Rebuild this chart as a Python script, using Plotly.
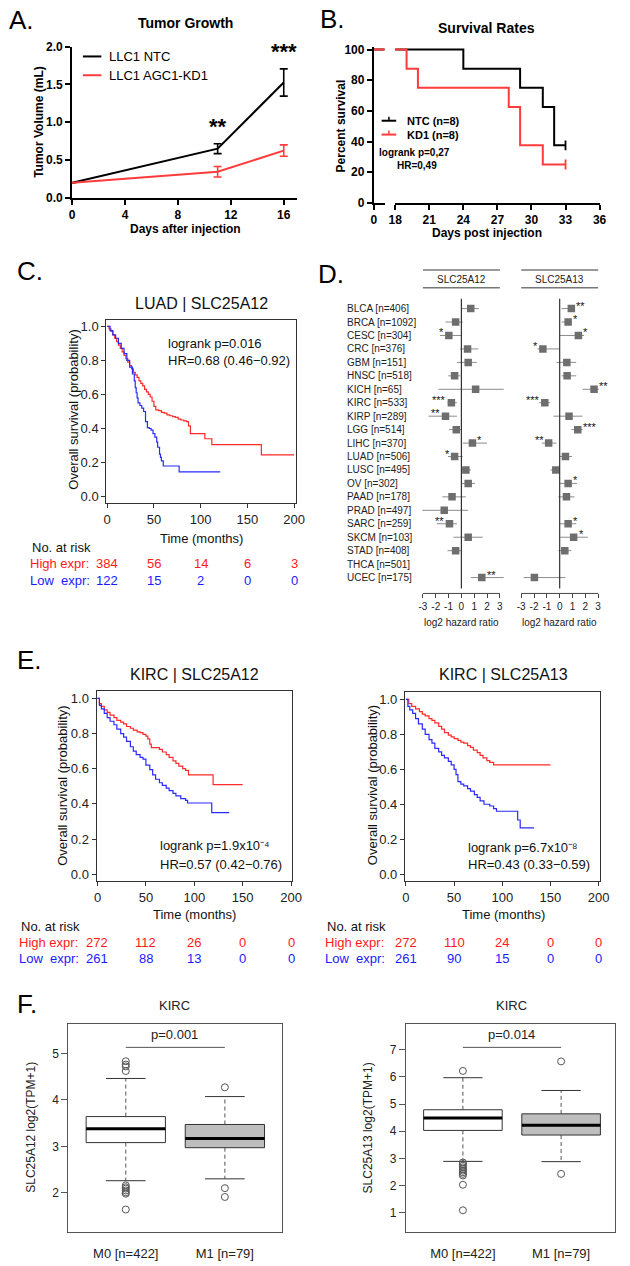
import plotly.graph_objects as go

W, H = 630, 1266
FONT = "Liberation Sans, Arial, Helvetica, sans-serif"
GP_RED = "#ff3b3b"
KM_RED = "#ff2a2a"
KM_BLUE = "#2a2aff"

# ====================== DATA ======================
# Panel A - tumour growth
growth_days = [0, 11, 16]
ntc_volume = [0.20, 0.65, 1.525]
ntc_sem = [None, 0.065, 0.18]
kd1_volume = [0.20, 0.345, 0.625]
kd1_sem = [None, 0.07, 0.075]
growth_stars = ["", "**", "***"]
growth_day_ticks = [0, 4, 8, 12, 16]
volume_ticks = [0.0, 0.5, 1.0, 1.5, 2.0]

# Panel B - survival
ntc_surv_days = [0, 24, 29, 31, 32, 33]
ntc_surv_pct = [100, 87.5, 75, 62.5, 37.5, 37.5]
kd1_surv_days = [0, 19, 20, 28, 29, 31, 33]
kd1_surv_pct = [100, 87.5, 75, 62.5, 37.5, 25, 25]
surv_day_ticks = [18, 21, 24, 27, 30, 33, 36]
surv_pct_ticks = [0, 20, 40, 60, 80, 100]

# Panel C - LUAD | SLC25A12 KM
luad_high_t = [0, 2, 4, 6, 8, 10, 12, 14, 16, 18, 20, 22, 24, 26, 28, 30, 32, 34, 36, 38, 40, 42, 44,
               46, 48, 50, 52, 55, 58, 61, 64, 67, 70, 73, 76, 79, 82, 85, 87, 89, 104.5, 112, 165, 200]
luad_high_s = [1.0, .985, .97, .95, .93, .91, .89, .87, .85, .83, .81, .79, .77, .75, .73, .715, .70, .68,
               .665, .65, .63, .615, .60, .585, .56, .53, .51, .505, .495, .49, .48, .475, .47, .465, .455,
               .45, .445, .44, .415, .37, .34, .305, .245, .245]
luad_low_t = [0, 3, 6, 9, 12, 15, 18, 21, 24, 27, 29, 30, 31, 32, 33, 35, 37, 39, 41, 43, 45, 47, 49, 51,
              53, 54, 56, 57, 58, 60, 77, 121]
luad_low_s = [1.0, .975, .95, .93, .90, .87, .84, .80, .76, .72, .68, .64, .61, .58, .55, .535, .52, .50,
              .44, .405, .40, .39, .37, .35, .32, .29, .25, .23, .21, .18, .145, .145]
luad_risk_high = [384, 56, 14, 6, 3]
luad_risk_low = [122, 15, 2, 0, 0]

# Panel D - forest plot (log2 hazard ratio)
cancers = ["BLCA [n=406]", "BRCA [n=1092]", "CESC [n=304]", "CRC [n=376]", "GBM [n=151]",
           "HNSC [n=518]", "KICH [n=65]", "KIRC [n=533]", "KIRP [n=289]", "LGG [n=514]",
           "LIHC [n=370]", "LUAD [n=506]", "LUSC [n=495]", "OV [n=302]", "PAAD [n=178]",
           "PRAD [n=497]", "SARC [n=259]", "SKCM [n=103]", "STAD [n=408]", "THCA [n=501]",
           "UCEC [n=175]"]
a12_hr = [0.73, -0.45, -0.98, 0.48, 0.53, -0.53, 1.11, -0.78, -1.24, -0.40, 0.86, -0.53, 0.35, 0.53,
          -0.73, -1.34, -0.93, 0.53, -0.45, None, 1.59]
a12_lo = [0.0, -1.24, -1.67, -0.10, -0.35, -1.03, -1.79, -1.10, -2.57, -0.97, 0.10, -1.05, 0.0, 0.0,
          -1.48, -3.05, -1.92, -0.62, -1.08, None, 0.73]
a12_hi = [1.36, 0.10, 0.0, 1.33, 1.20, -0.08, 3.30, -0.35, -0.35, 0.0, 2.00, 0.10, 0.74, 1.06,
          0.35, 0.53, -0.35, 1.67, 0.05, None, 3.30]
a12_sig = ["", "", "*", "", "", "", "", "***", "**", "", "*", "*", "", "", "", "", "**", "", "", "", "**"]
a13_hr = [0.91, 0.66, 1.46, -1.31, 0.56, 0.58, 2.68, -1.16, 0.73, 1.41, -0.86, 0.45, -0.30, 0.66,
          0.53, None, 0.66, 1.09, 0.40, None, -1.97]
a13_lo = [0.15, 0.15, 0.0, -1.74, -0.23, 0.15, 1.79, -1.60, -0.48, 0.91, -1.39, 0.0, -0.73, 0.0,
          -0.10, None, 0.0, 0.05, -0.10, None, -2.81]
a13_hi = [1.16, 0.96, 1.91, 0.0, 1.29, 1.29, 3.05, -0.73, 1.79, 1.79, -0.25, 0.96, 0.0, 1.34,
          1.16, None, 1.29, 2.20, 0.91, None, 0.45]
a13_sig = ["**", "*", "*", "*", "", "", "**", "***", "", "***", "**", "", "", "*", "", "", "*", "*", "", "", ""]
forest_ticks = [-3, -2, -1, 0, 1, 2, 3]

# Panel E - KIRC KM curves
kirc12_high_t = [0, 2, 4, 7, 10, 13, 17, 20, 24, 27, 30, 34, 37, 41, 44, 47, 50, 52, 54, 55.6, 60, 64,
                 67, 71, 74, 78, 81, 84, 88, 91, 94, 119.4, 150]
kirc12_high_s = [1.0, .97, .955, .935, .92, .905, .89, .875, .865, .855, .84, .83, .82, .81, .805, .795,
                 .785, .77, .74, .72, .72, .71, .695, .68, .665, .645, .63, .615, .60, .59, .565, .51, .51]
kirc12_low_t = [0, 2, 4, 7, 10, 13, 17, 20, 24, 27, 30, 34, 37, 40, 44, 47, 50, 54, 57, 60, 64, 67, 71,
                74, 78, 81, 86, 91, 93, 118, 136]
kirc12_low_s = [1.0, .96, .94, .915, .89, .87, .85, .825, .80, .78, .755, .725, .70, .68, .665, .655,
                .62, .595, .565, .54, .52, .505, .49, .475, .46, .445, .43, .42, .405, .35, .35]
kirc13_high_t = [0, 3, 6, 10, 14, 17, 20, 24, 27, 30, 34, 37, 40, 44, 47, 50, 54, 57, 60, 64, 67, 70,
                 74, 77, 80, 84, 87, 91, 150]
kirc13_high_s = [1.0, .975, .96, .945, .93, .915, .905, .89, .88, .865, .845, .83, .81, .795, .785,
                 .775, .765, .755, .75, .735, .725, .71, .695, .68, .665, .65, .64, .625, .625]
kirc13_low_t = [0, 2, 4, 7, 10, 13, 17, 20, 24, 27, 30, 34, 37, 40, 44, 47, 50, 52, 54, 57, 60, 64, 67,
                71, 74, 77, 81, 87, 91, 94, 116, 118.6, 133]
kirc13_low_s = [1.0, .96, .94, .92, .89, .86, .83, .80, .77, .75, .72, .70, .68, .665, .645, .625, .60,
                .57, .53, .515, .505, .49, .475, .455, .44, .42, .40, .39, .375, .36, .31, .265, .265]
kirc12_risk_high = [272, 112, 26, 0, 0]
kirc12_risk_low = [261, 88, 13, 0, 0]
kirc13_risk_high = [272, 110, 24, 0, 0]
kirc13_risk_low = [261, 90, 15, 0, 0]
km_time_ticks = [0, 50, 100, 150, 200]
km_prob_ticks = [0.0, 0.2, 0.4, 0.6, 0.8, 1.0]

# Panel F - boxplots (M0 / M1)
f_groups = ["M0 [n=422]", "M1 [n=79]"]
a12_q1 = [3.08, 2.97]
a12_med = [3.38, 3.17]
a12_q3 = [3.64, 3.47]
a12_wlo = [2.26, 2.30]
a12_whi = [4.46, 4.07]
a12_out = [[4.83, 4.76, 4.72, 4.62, 2.16, 2.12, 2.09, 2.05, 2.01, 1.98, 1.64], [4.27, 2.10, 1.91]]
a13_q1 = [4.03, 3.86]
a13_med = [4.49, 4.22]
a13_q3 = [4.79, 4.64]
a13_wlo = [2.89, 2.88]
a13_whi = [5.97, 5.50]
a13_out = [[6.22, 2.85, 2.79, 2.73, 2.67, 2.61, 2.55, 2.49, 2.43, 2.37, 2.03, 1.09], [6.57, 2.43]]
a12_box_ticks = [2, 3, 4, 5]
a13_box_ticks = [1, 2, 3, 4, 5, 6, 7]

# ====================== HELPERS ======================
def dx(l, r):
    return [l / W, r / W]


def dy(top, bottom):
    return [1 - bottom / H, 1 - top / H]


def px(x):
    return x / W


def py(y):
    return 1 - y / H


fig = go.Figure()
annotations = []
shapes = []


def note(text, x, y, size=13, color="black", xanchor="center", yanchor="middle", bold=False,
         angle=0, xref="paper", yref="paper", xshift=0, yshift=0):
    xx = px(x) if xref == "paper" else x
    yy = py(y) if yref == "paper" else y
    annotations.append(dict(text=text, x=xx, y=yy, xref=xref, yref=yref, showarrow=False,
                            xanchor=xanchor, yanchor=yanchor, textangle=angle,
                            xshift=xshift, yshift=yshift,
                            font=dict(family=FONT, size=size, color=color,
                                      weight="bold" if bold else "normal")))


def paper_line(x0, y0, x1, y1, color="black", width=1, dash="solid"):
    shapes.append(dict(type="line", xref="paper", yref="paper", x0=px(x0), y0=py(y0),
                       x1=px(x1), y1=py(y1), line=dict(color=color, width=width, dash=dash)))


# ====================== PANEL A ======================
for vol, err, col in [(ntc_volume, ntc_sem, "black"), (kd1_volume, kd1_sem, GP_RED)]:
    fig.add_trace(go.Scatter(x=growth_days, y=vol, mode="lines", line=dict(color=col, width=2),
                             error_y=dict(type="data", array=err, color=col, thickness=1.6, width=4),
                             xaxis="x", yaxis="y", showlegend=False, hoverinfo="skip"))
for d, v, e, s in zip(growth_days, ntc_volume, ntc_sem, growth_stars):
    if s:
        note(s, d, v + e, size=22, bold=True, xref="x", yref="y", yanchor="bottom", yshift=3)

note("A.", 0, 13, size=26, xanchor="left")
note("Tumor Growth", 183, 16, size=14, bold=True)
note("Tumor Volume (mL)", 33, 116, size=12, bold=True, angle=-90)
note("Days after injection", 183, 224, size=12, bold=True)
paper_line(78, 50, 97, 50, "black", 2)
paper_line(78, 69, 97, 69, GP_RED, 2)
note("LLC1 NTC", 103, 50, size=13, xanchor="left")
note("LLC1 AGC1-KD1", 103, 69, size=13, xanchor="left")

# ====================== PANEL B ======================
for days, pct, col in [(ntc_surv_days, ntc_surv_pct, "black"), (kd1_surv_days, kd1_surv_pct, GP_RED)]:
    for xa in ["x2", "x3"]:
        fig.add_trace(go.Scatter(x=days, y=pct, mode="lines", line=dict(color=col, width=2, shape="hv"),
                                 xaxis=xa, yaxis="y2", showlegend=False, hoverinfo="skip"))
    fig.add_trace(go.Scatter(x=[days[-1]], y=[pct[-1]], mode="markers",
                             marker=dict(symbol="line-ns-open", size=7, color=col,
                                         line=dict(color=col, width=1.8)),
                             xaxis="x3", yaxis="y2", showlegend=False, hoverinfo="skip"))

note("B.", 320, 12, size=26, xanchor="left")
note("Survival Rates", 493, 21, size=14, bold=True)
note("Percent survival", 343, 120, size=12, bold=True, angle=-90)
note("Days post injection", 493, 229, size=12, bold=True)
paper_line(385, 115, 400, 115, "black", 2)
paper_line(392.5, 111, 392.5, 115, "black", 1.5)
paper_line(385, 129, 400, 129, GP_RED, 2)
paper_line(392.5, 125, 392.5, 129, GP_RED, 1.5)
note("NTC (n=8)", 409, 115, size=11, bold=True, xanchor="left")
note("KD1 (n=8)", 409, 129, size=11, bold=True, xanchor="left")
note("logrank p=0,27", 419, 147, size=10, bold=True)
note("HR=0,49", 421, 160, size=10, bold=True)

# ====================== PANEL C & E (KM) ======================
def km_panel(xa, ya, hi_t, hi_s, lo_t, lo_s):
    fig.add_trace(go.Scatter(x=hi_t, y=hi_s, mode="lines", line=dict(color=KM_RED, width=1.2, shape="hv"),
                             xaxis=xa, yaxis=ya, showlegend=False, hoverinfo="skip"))
    fig.add_trace(go.Scatter(x=lo_t, y=lo_s, mode="lines", line=dict(color=KM_BLUE, width=1.2, shape="hv"),
                             xaxis=xa, yaxis=ya, showlegend=False, hoverinfo="skip"))


def risk_table(xa, label_x, y0, highs, lows):
    note("No. at risk", label_x + 2, y0, size=13, color="#111", xanchor="left")
    note("High expr:", label_x, y0 + 16, size=13, color="#ff1a1a", xanchor="left")
    note("Low\u00a0 expr:", label_x, y0 + 32.5, size=13, color="#1a1aff", xanchor="left")
    for t, h, l in zip(km_time_ticks, highs, lows):
        annotations.append(dict(text=str(h), x=t, y=py(y0 + 16), xref=xa, yref="paper", showarrow=False,
                                yanchor="middle", font=dict(family=FONT, size=13, color="#ff1a1a")))
        annotations.append(dict(text=str(l), x=t, y=py(y0 + 32.5), xref=xa, yref="paper", showarrow=False,
                                yanchor="middle", font=dict(family=FONT, size=13, color="#1a1aff")))


km_panel("x4", "y4", luad_high_t, luad_high_s, luad_low_t, luad_low_s)
note("C.", 8, 267, size=26, xanchor="left")
note("LUAD | SLC25A12", 200, 300, size=16, color="#111")
note("Time (months)", 200, 537, size=13, color="#111")
note("Overall survival (probability)", 68, 407, size=13, color="#111", angle=-90)
note("logrank p=0.016", 62.5, 0.90, size=13, color="#111", xanchor="left", xref="x4", yref="y4")
note("HR=0.68 (0.46\u22120.92)", 62.5, 0.797, size=13, color="#111", xanchor="left", xref="x4", yref="y4")
risk_table("x4", 22, 547, luad_risk_high, luad_risk_low)

km_panel("x7", "y7", kirc12_high_t, kirc12_high_s, kirc12_low_t, kirc12_low_s)
km_panel("x8", "y8", kirc13_high_t, kirc13_high_s, kirc13_low_t, kirc13_low_s)
note("E.", 8, 660, size=26, xanchor="left")
note("KIRC | SLC25A12", 193, 675, size=16, color="#111")
note("KIRC | SLC25A13", 510, 675, size=16, color="#111")
note("Time (months)", 193, 918, size=13, color="#111")
note("Time (months)", 510, 918, size=13, color="#111")
note("Overall survival (probability)", 57, 787, size=13, color="#111", angle=-90)
note("Overall survival (probability)", 375, 787, size=13, color="#111", angle=-90)
note("logrank p=1.9x10\u207b\u2074", 62.3, 0.163, size=13, color="#111", xanchor="left", xref="x7", yref="y7")
note("HR=0.57 (0.42\u22120.76)", 62.3, 0.056, size=13, color="#111", xanchor="left", xref="x7", yref="y7")
note("logrank p=6.7x10\u207b\u2078", 62.6, 0.153, size=13, color="#111", xanchor="left", xref="x8", yref="y8")
note("HR=0.43 (0.33\u22120.59)", 62.6, 0.056, size=13, color="#111", xanchor="left", xref="x8", yref="y8")
risk_table("x7", 10, 930, kirc12_risk_high, kirc12_risk_low)
risk_table("x8", 325, 930, kirc13_risk_high, kirc13_risk_low)

# ====================== PANEL D (forest) ======================
rows = list(range(len(cancers)))
note("D.", 318, 270, size=26, xanchor="left")
for i, name in enumerate(cancers):
    note(name, 347, i, size=10, color="#222", xanchor="left", yref="y5")

for xa, ya, hr, lo, hi, sig, gene in [("x5", "y5", a12_hr, a12_lo, a12_hi, a12_sig, "SLC25A12"),
                                       ("x6", "y6", a13_hr, a13_lo, a13_hi, a13_sig, "SLC25A13")]:
    plus = [None if h is None else u - h for h, u in zip(hr, hi)]
    minus = [None if h is None else h - l for h, l in zip(hr, lo)]
    fig.add_trace(go.Scatter(x=hr, y=rows, mode="markers",
                             marker=dict(symbol="square", size=7.5, color="#6e6e6e"),
                             error_x=dict(type="data", symmetric=False, array=plus, arrayminus=minus,
                                          color="#8c8c8c", thickness=1, width=0),
                             xaxis=xa, yaxis=ya, showlegend=False, hoverinfo="skip"))
    for i, (h, s) in enumerate(zip(hr, sig)):
        if s and h is not None:
            pos = h > 0
            annotations.append(dict(text=s, x=h, y=i, xref=xa, yref=ya, showarrow=False,
                                    xanchor="left" if pos else "right", yanchor="middle",
                                    xshift=3 if pos else -3, yshift=3,
                                    font=dict(family=FONT, size=11, color="#111")))
    shapes.append(dict(type="line", xref=xa, yref=ya, x0=0, x1=0, y0=-0.74, y1=20.81,
                       line=dict(color="#333", width=1.2)))
    shapes.append(dict(type="line", xref=xa, yref="paper", x0=-3, x1=3, y0=py(593), y1=py(593),
                       line=dict(color="#444", width=1)))
    for yy in (266, 284):
        shapes.append(dict(type="line", xref=xa, yref="paper", x0=-3, x1=3, y0=py(yy), y1=py(yy),
                           line=dict(color="#777", width=1.5)))
    annotations.append(dict(text=gene, x=0, y=py(276), xref=xa, yref="paper", showarrow=False,
                            xanchor="center", yanchor="middle",
                            font=dict(family=FONT, size=10, color="#222")))
    annotations.append(dict(text="log2 hazard ratio", x=0, y=py(622), xref=xa, yref="paper",
                            showarrow=False, xanchor="center", yanchor="middle",
                            font=dict(family=FONT, size=10, color="#222")))

# ====================== PANEL F (boxplots) ======================
BOX_HALF = 0.4
STAPLE_HALF = 0.2


def box_panel(xa, ya, q1s, meds, q3s, wlos, whis, outs):
    for k, (q1, med, q3, wlo, whi, out) in enumerate(zip(q1s, meds, q3s, wlos, whis, outs)):
        pos = k + 1
        fill = "white" if k == 0 else "#bebebe"
        fig.add_trace(go.Scatter(x=[pos, pos, None, pos, pos], y=[q3, whi, None, q1, wlo], mode="lines",
                                 line=dict(color="#555", width=1, dash="4px,3px"), xaxis=xa, yaxis=ya,
                                 showlegend=False, hoverinfo="skip"))
        fig.add_trace(go.Scatter(x=[pos - STAPLE_HALF, pos + STAPLE_HALF, None, pos - STAPLE_HALF, pos + STAPLE_HALF],
                                 y=[whi, whi, None, wlo, wlo], mode="lines",
                                 line=dict(color="#333", width=1), xaxis=xa, yaxis=ya,
                                 showlegend=False, hoverinfo="skip"))
        fig.add_trace(go.Scatter(x=[pos - BOX_HALF, pos + BOX_HALF, pos + BOX_HALF, pos - BOX_HALF, pos - BOX_HALF],
                                 y=[q1, q1, q3, q3, q1], mode="lines", fill="toself", fillcolor=fill,
                                 line=dict(color="#333", width=1), xaxis=xa, yaxis=ya,
                                 showlegend=False, hoverinfo="skip"))
        fig.add_trace(go.Scatter(x=[pos - BOX_HALF, pos + BOX_HALF], y=[med, med], mode="lines",
                                 line=dict(color="black", width=3), xaxis=xa, yaxis=ya,
                                 showlegend=False, hoverinfo="skip"))
        fig.add_trace(go.Scatter(x=[pos] * len(out), y=out, mode="markers",
                                 marker=dict(symbol="circle-open", size=7, color="#555",
                                             line=dict(width=1, color="#555")),
                                 xaxis=xa, yaxis=ya, showlegend=False, hoverinfo="skip"))
    shapes.append(dict(type="line", xref=xa, yref="paper", x0=1, x1=2, y0=py(1052), y1=py(1052),
                       line=dict(color="#555", width=1)))


box_panel("x9", "y9", a12_q1, a12_med, a12_q3, a12_wlo, a12_whi, a12_out)
box_panel("x10", "y10", a13_q1, a13_med, a13_q3, a13_wlo, a13_whi, a13_out)
note("F.", 8, 1008, size=26, xanchor="left")
note("KIRC", 172, 1010, size=13, color="#222")
note("KIRC", 519, 1010, size=13, color="#222")
note("p=0.001", 172, 1039, size=13, color="#222")
note("p=0.014", 519, 1039, size=13, color="#222")
note("SLC25A12 log2(TPM+1)", 25, 1133, size=12, color="#222", angle=-90)
note("SLC25A13 log2(TPM+1)", 372, 1133, size=12, color="#222", angle=-90)

# ====================== AXES ======================
base = dict(showgrid=False, zeroline=False, showline=True, linecolor="black", ticks="outside",
            tickcolor="black")
gp_font = dict(family=FONT, size=12, color="black", weight="bold")
r_font = dict(family=FONT, size=13, color="#222")
hidden = dict(showgrid=False, zeroline=False, showline=False, ticks="", showticklabels=False)

layout_axes = dict(
    xaxis=dict(base, domain=dx(67, 298), range=[0, 17], tickvals=growth_day_ticks, linewidth=2,
               tickwidth=2, ticklen=5, tickfont=gp_font, anchor="y"),
    yaxis=dict(base, domain=dy(40, 193), range=[0, 2], tickvals=volume_ticks, tickformat=".1f",
               linewidth=2, tickwidth=2, ticklen=5, tickfont=gp_font, anchor="x"),
    xaxis2=dict(base, domain=dx(377, 388), range=[0, 11 / 11.67], tickvals=[0], linewidth=2,
                tickwidth=2, ticklen=5, tickfont=gp_font, anchor="y2"),
    xaxis3=dict(base, domain=dx(399, 609), range=[18, 36], tickvals=surv_day_ticks, linewidth=2,
                tickwidth=2, ticklen=5, tickfont=gp_font, anchor="y2"),
    yaxis2=dict(base, domain=dy(40.7, 198), range=[0, 101.5], tickvals=surv_pct_ticks, linewidth=2,
                tickwidth=2, ticklen=5, tickfont=gp_font, anchor="x2"),
    xaxis4=dict(base, domain=dx(102, 297), range=[-1.04, 202.08], tickvals=km_time_ticks, mirror=True,
                linecolor="#333", tickcolor="#333", ticklen=4, tickfont=r_font, anchor="y4"),
    yaxis4=dict(base, domain=dy(316, 502), range=[-0.04, 1.04], tickvals=km_prob_ticks, tickformat=".1f",
                mirror=True, linecolor="#333", tickcolor="#333", ticklen=4, tickfont=r_font, anchor="x4"),
    xaxis5=dict(base, domain=dx(422.2, 511.8), range=[-3.4, 3.4], tickvals=forest_ticks,
                ticktext=[str(t) for t in forest_ticks], showline=False, ticklen=4, tickcolor="#444",
                tickfont=dict(family=FONT, size=10, color="#222"), anchor="y5"),
    yaxis5=dict(hidden, domain=dy(290, 593), range=[21.18, -1.1], anchor="x5"),
    xaxis6=dict(base, domain=dx(523.2, 612.8), range=[-3.4, 3.4], tickvals=forest_ticks,
                ticktext=[str(t) for t in forest_ticks], showline=False, ticklen=4, tickcolor="#444",
                tickfont=dict(family=FONT, size=10, color="#222"), anchor="y6"),
    yaxis6=dict(hidden, domain=dy(290, 593), range=[21.18, -1.1], anchor="x6"),
    xaxis7=dict(base, domain=dx(92, 293), range=[-1.0, 201.0], tickvals=km_time_ticks, mirror=True,
                linecolor="#333", tickcolor="#333", ticklen=4, tickfont=r_font, anchor="y7"),
    yaxis7=dict(base, domain=dy(692, 884), range=[-0.04, 1.04], tickvals=km_prob_ticks, tickformat=".1f",
                mirror=True, linecolor="#333", tickcolor="#333", ticklen=4, tickfont=r_font, anchor="x7"),
    xaxis8=dict(base, domain=dx(409, 609), range=[-1.01, 201.01], tickvals=km_time_ticks, mirror=True,
                linecolor="#333", tickcolor="#333", ticklen=4, tickfont=r_font, anchor="y8"),
    yaxis8=dict(base, domain=dy(693, 884), range=[-0.04, 1.04], tickvals=km_prob_ticks, tickformat=".1f",
                mirror=True, linecolor="#333", tickcolor="#333", ticklen=4, tickfont=r_font, anchor="x8"),
    xaxis9=dict(base, domain=dx(63, 283), range=[0.42, 2.58], tickvals=[1, 2], ticktext=f_groups,
                ticks="", mirror=True, linecolor="#555", ticklabelstandoff=9,
                tickfont=dict(family=FONT, size=13, color="#222"), anchor="y9"),
    yaxis9=dict(base, domain=dy(1028, 1239), range=[1.15, 5.64], tickvals=a12_box_ticks, mirror=True,
                linecolor="#555", tickcolor="#555", ticklen=6,
                tickfont=dict(family=FONT, size=12, color="#222"), anchor="x9"),
    xaxis10=dict(base, domain=dx(410, 625), range=[0.42, 2.55], tickvals=[1, 2], ticktext=f_groups,
                 ticks="", mirror=True, linecolor="#555", ticklabelstandoff=9,
                 tickfont=dict(family=FONT, size=13, color="#222"), anchor="y10"),
    yaxis10=dict(base, domain=dy(1028, 1239), range=[0.28, 7.96], tickvals=a13_box_ticks, mirror=True,
                 linecolor="#555", tickcolor="#555", ticklen=6,
                 tickfont=dict(family=FONT, size=12, color="#222"), anchor="x10"),
)

fig.update_layout(width=W, height=H, margin=dict(l=0, r=0, t=0, b=0), paper_bgcolor="white",
                  plot_bgcolor="white", showlegend=False, annotations=annotations, shapes=shapes,
                  font=dict(family=FONT), **layout_axes)

fig.write_html("out.html")
